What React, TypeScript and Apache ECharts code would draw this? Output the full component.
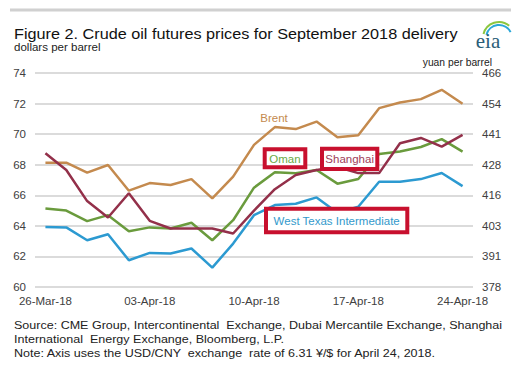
import React, { useEffect, useRef } from "react";
import * as echarts from "echarts";

const categories = [
  "26-Mar-18", "27-Mar-18", "28-Mar-18", "29-Mar-18", "02-Apr-18", "03-Apr-18",
  "04-Apr-18", "05-Apr-18", "06-Apr-18", "09-Apr-18", "10-Apr-18", "11-Apr-18",
  "12-Apr-18", "13-Apr-18", "16-Apr-18", "17-Apr-18", "18-Apr-18", "19-Apr-18",
  "20-Apr-18", "23-Apr-18", "24-Apr-18",
];

const brent = [68.13, 68.13, 67.48, 67.98, 66.3, 66.8, 66.67, 67.06, 65.8, 67.22, 69.3, 70.46, 70.33, 70.82, 69.8, 69.93, 71.7, 72.07, 72.29, 72.9, 71.99];
const shanghai = [68.75, 67.65, 65.62, 64.55, 66.13, 64.33, 63.83, 63.83, 63.83, 63.5, 65.0, 66.4, 67.33, 67.65, 67.85, 67.45, 67.45, 69.4, 69.75, 69.18, 69.95];
const oman = [65.14, 65.0, 64.31, 64.7, 63.65, 63.9, 63.83, 64.2, 63.06, 64.37, 66.5, 67.5, 67.44, 67.65, 66.76, 67.07, 68.7, 68.86, 69.16, 69.67, 68.86];
const wti = [63.93, 63.9, 63.06, 63.45, 61.75, 62.23, 62.19, 62.52, 61.27, 62.84, 64.7, 65.36, 65.45, 65.86, 64.85, 65.25, 66.89, 66.89, 67.06, 67.46, 66.6];

const yuanTickLabels = ["378", "391", "403", "416", "428", "441", "454", "466"];

const FONT = "'Liberation Sans', Arial, sans-serif";

export default function App() {
  const ref = useRef<HTMLDivElement>(null);
  useEffect(() => {
    if (!ref.current) return;
    const chart = echarts.init(ref.current, null, { renderer: "svg" });
    const axisLabel = { color: "#404040", fontSize: 11.5, fontFamily: FONT };
    const box = (x: number, y: number, w: number, h: number, text: string, color: string) => ({
      type: "group",
      z: 100,
      children: [
        { type: "rect", z: 100, shape: { x, y, width: w, height: h }, style: { fill: "#ffffff", stroke: "#C8102E", lineWidth: 4 } },
        {
          type: "text",
          z: 101,
          x: x + w / 2,
          y: y + h / 2 + 0.5,
          style: { text, fill: color, font: `11.5px ${FONT}`, textAlign: "center", textVerticalAlign: "middle" },
        },
      ],
    });
    chart.setOption({
      animation: false,
      backgroundColor: "#ffffff",
      grid: { left: 35, right: 50, top: 73, bottom: 80 },
      xAxis: {
        type: "category",
        data: categories,
        boundaryGap: true,
        axisLine: { show: false },
        axisTick: { show: false },
        axisLabel: { ...axisLabel, interval: 4, margin: 8 },
      },
      yAxis: [
        {
          type: "value",
          min: 60,
          max: 74,
          interval: 2,
          position: "left",
          axisLine: { show: false },
          axisTick: { show: false },
          axisLabel: { ...axisLabel, margin: 9 },
          splitLine: { lineStyle: { color: "#cfcfcf", width: 1.5 } },
        },
        {
          type: "value",
          min: 60,
          max: 74,
          interval: 2,
          position: "right",
          axisLine: { show: false },
          axisTick: { show: false },
          axisLabel: {
            ...axisLabel,
            margin: 9,
            formatter: (v: number) => yuanTickLabels[Math.round((v - 60) / 2)] ?? "",
          },
          splitLine: { show: false },
        },
      ],
      series: [
        { name: "Brent", type: "line", data: brent, symbol: "none", lineStyle: { color: "#C48A4E", width: 2.5 }, z: 2 },
        { name: "Oman", type: "line", data: oman, symbol: "none", lineStyle: { color: "#6A9B3D", width: 2.5 }, z: 3 },
        { name: "West Texas Intermediate", type: "line", data: wti, symbol: "none", lineStyle: { color: "#2C9AD1", width: 2.5 }, z: 4 },
        { name: "Shanghai", type: "line", data: shanghai, symbol: "none", lineStyle: { color: "#93304A", width: 2.5 }, z: 5 },
      ],
      graphic: [
        { type: "line", shape: { x1: 10, y1: 10, x2: 511, y2: 10 }, style: { stroke: "#d0d0d0", lineWidth: 3 } },
        {
          type: "text",
          x: 14,
          y: 26,
          scaleX: 1.12,
          style: { text: "Figure 2. Crude oil futures prices for September 2018 delivery", fill: "#111", font: `14.5px ${FONT}` },
        },
        { type: "text", x: 14, y: 42, scaleX: 1.1, style: { text: "dollars per barrel", fill: "#222", font: `10.5px ${FONT}` } },
        { type: "text", x: 492, y: 57, style: { text: "yuan per barrel", fill: "#222", font: `10.3px ${FONT}`, textAlign: "right" } },
        { type: "arc", shape: { cx: 499, cy: 38, r: 16, startAngle: Math.PI * 1.08, endAngle: Math.PI * 1.72, clockwise: true }, style: { stroke: "#8CC63F", lineWidth: 2, fill: "none" } },
        { type: "arc", shape: { cx: 499, cy: 38, r: 13, startAngle: Math.PI * 1.08, endAngle: Math.PI * 1.85, clockwise: true }, style: { stroke: "#2AA7D8", lineWidth: 2, fill: "none" } },
        { type: "text", x: 488, y: 41, style: { text: "eia", fill: "#2B5E78", font: `21px 'Liberation Serif', 'DejaVu Serif', serif`, textAlign: "center", textVerticalAlign: "middle" } },
        { type: "text", z: 100, x: 274, y: 118, style: { text: "Brent", fill: "#C48A4E", font: `11.5px ${FONT}`, textAlign: "center", textVerticalAlign: "middle" } },
        box(264.7, 149.3, 40.6, 18, "Oman", "#6AAA45"),
        box(322, 148.7, 55.3, 20.3, "Shanghai", "#A0405A"),
        box(266, 208.7, 141.3, 23.6, "West Texas Intermediate", "#3399CC"),
        {
          type: "text",
          x: 14,
          y: 318,
          scaleX: 1.14,
          style: {
            text: "Source: CME Group, Intercontinental  Exchange, Dubai Mercantile Exchange, Shanghai\nInternational  Energy Exchange, Bloomberg, L.P.\nNote: Axis uses the USD/CNY  exchange  rate of 6.31 ¥/$ for April 24, 2018.",
            fill: "#222",
            font: `11px ${FONT}`,
            lineHeight: 14,
          },
        },
      ],
    });
    return () => chart.dispose();
  }, []);
  return <div ref={ref} style={{ position: "absolute", left: 0, top: 0, width: 523, height: 367 }} />;
}
